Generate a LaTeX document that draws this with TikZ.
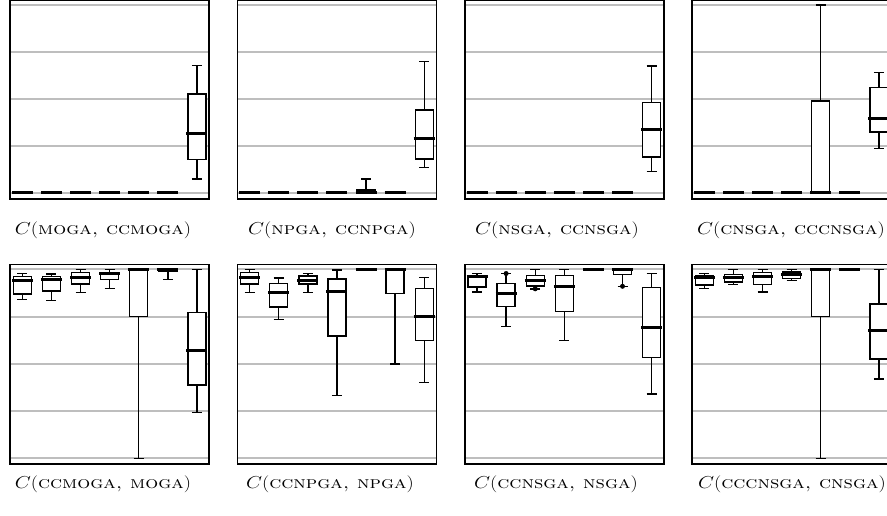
\documentclass[tikz,border=0pt]{standalone}
\usepackage{tikz}
\definecolor{gridgray}{RGB}{190,190,190}
\tikzset{
  gridln/.style={draw=gridgray,line width=2pt},
  frameln/.style={draw=black,line width=1.6pt},
  whisk/.style={draw=black,line width=1.4pt},
  boxln/.style={draw=black,line width=1.4pt,fill=white},
  medln/.style={draw=black,line width=3pt},
  outl/.style={fill=black,draw=none},
  lab/.style={anchor=base,inner sep=0pt,font=\fontsize{17}{20}\selectfont}
}
% center, whisker top, q3, median, q1, whisker bottom
\newcommand\bplot[6]{%
  \draw[whisk] (#1,#2) -- (#1,#3);
  \draw[whisk] (#1,#5) -- (#1,#6);
  \draw[whisk] (#1-5,#2) -- (#1+5,#2);
  \draw[whisk] (#1-5,#6) -- (#1+5,#6);
  \draw[boxln] (#1-9,#3) rectangle (#1+9,#5);
  \draw[medln] (#1-10.5,#4) -- (#1+10.5,#4);
}
\newcommand\zerobox[1]{\bplot{#1}{193}{193}{193}{193}{193}}
\newcommand\topbox[1]{\bplot{#1}{269.3}{269.3}{269.3}{269.3}{269.3}}
\newcommand\topgrid{%
  \foreach \gy in {5,52,99,146,193} \draw[gridln] (0,\gy) -- (199,\gy);
}
\newcommand\botgrid{%
  \foreach \gy in {269.3,316.5,363.8,411,458.3} \draw[gridln] (0,\gy) -- (199,\gy);
}
\newcommand\labtxt[1]{\scalebox{1.2}[1]{#1}}
\begin{document}
\begin{tikzpicture}[x=1pt,y=-1pt]
\useasboundingbox (0,0) rectangle (887,516);
\clip (0,0) rectangle (887,516);
% ---------------- top row ----------------
\begin{scope}[shift={(10,0)}]
  \topgrid
  \zerobox{12.3}\zerobox{41.4}\zerobox{70.5}\zerobox{99.6}\zerobox{128.7}\zerobox{157.8}
  \bplot{186.9}{65.7}{94}{133.3}{159.3}{179}
  \draw[frameln] (0,0.7) rectangle (199,199);
\end{scope}
\begin{scope}[shift={(237.3,0)}]
  \topgrid
  \zerobox{12.3}\zerobox{41.4}\zerobox{70.5}\zerobox{99.6}
  \bplot{128.7}{179}{190}{193}{193}{193}
  \zerobox{157.8}
  \bplot{186.9}{61.7}{110}{139}{159}{167.7}
  \draw[frameln] (0,0.7) rectangle (199,199);
\end{scope}
\begin{scope}[shift={(464.7,0)}]
  \topgrid
  \zerobox{12.3}\zerobox{41.4}\zerobox{70.5}\zerobox{99.6}\zerobox{128.7}\zerobox{157.8}
  \bplot{186.9}{66}{102.7}{129.3}{157}{171.3}
  \draw[frameln] (0,0.7) rectangle (199,199);
\end{scope}
\begin{scope}[shift={(692,0)}]
  \topgrid
  \zerobox{12.3}\zerobox{41.4}\zerobox{70.5}\zerobox{99.6}
  \bplot{128.7}{5}{101}{193}{193}{193}
  \zerobox{157.8}
  \bplot{186.9}{72.7}{87.3}{118.3}{132}{148.3}
  \draw[frameln] (0,0.7) rectangle (199,199);
\end{scope}
% ---------------- bottom row ----------------
\begin{scope}[shift={(10,0)}]
  \botgrid
  \bplot{12.3}{273.5}{276.2}{280.2}{294}{299.5}
  \bplot{41.4}{274}{276.5}{279.5}{291}{300.5}
  \bplot{70.5}{269.7}{272.2}{277.2}{283.8}{292.2}
  \bplot{99.6}{269.7}{272.2}{273.5}{279.7}{288.2}
  \bplot{128.7}{269.3}{269.3}{269.3}{316.7}{458.3}
  \bplot{157.8}{269.3}{269.3}{269.3}{271}{279.4}
  \bplot{186.9}{269.3}{312.3}{350.7}{385}{412.7}
  \draw[frameln] (0,264.3) rectangle (199,464);
\end{scope}
\begin{scope}[shift={(237.3,0)}]
  \botgrid
  \bplot{12.3}{269.7}{272.5}{277.2}{283.8}{292.2}
  \bplot{41.4}{278}{283.2}{292.3}{306.8}{319.3}
  \bplot{70.5}{273.5}{275.8}{280.2}{283.8}{292.2}
  \bplot{99.6}{270}{279}{291}{336}{395.7}
  \topbox{128.7}
  \bplot{157.8}{269.3}{269.3}{269.3}{293.3}{364}
  \bplot{186.9}{277.3}{288.3}{316.7}{340.7}{382.7}
  \draw[frameln] (0,264.3) rectangle (199,464);
\end{scope}
\begin{scope}[shift={(464.7,0)}]
  \botgrid
  \bplot{12.3}{273.5}{275.8}{276.8}{286.8}{292}
  \bplot{41.4}{273.5}{283.2}{293.5}{306.5}{326.5}
  \fill[outl] (41.4,273.5) circle (2.5);
  \bplot{70.5}{269.7}{275.2}{280.8}{286}{288.8}
  \fill[outl] (70.5,288.8) circle (2.5);
  \bplot{99.6}{269.7}{275.5}{286}{311.2}{340.7}
  \topbox{128.7}
  \bplot{157.8}{269.3}{269.3}{269.3}{274.3}{286.3}
  \fill[outl] (157.8,286.3) circle (2.5);
  \bplot{186.9}{273.3}{287.3}{327.7}{357.7}{394}
  \draw[frameln] (0,264.3) rectangle (199,464);
\end{scope}
\begin{scope}[shift={(692,0)}]
  \botgrid
  \bplot{12.3}{273.5}{275.5}{277.2}{285}{288.5}
  \bplot{41.4}{269.3}{274.5}{277.2}{281.8}{284.5}
  \bplot{70.5}{269.3}{272.2}{276.6}{284.3}{291.8}
  \bplot{99.6}{269.3}{271.8}{274.3}{278.5}{280.7}
  \bplot{128.7}{269.3}{269.3}{269.3}{316.7}{458.3}
  \topbox{157.8}
  \bplot{186.9}{269.3}{304}{330}{359}{379}
  \draw[frameln] (0,264.3) rectangle (199,464);
\end{scope}
% ---------------- labels ----------------
\node[lab] (l1) at (103,235) {\labtxt{$C$(\textsc{moga, ccmoga})}};
\node[lab] (l2) at (332,235) {\labtxt{$C$(\textsc{npga, ccnpga})}};
\node[lab] (l3) at (557,235) {\labtxt{$C$(\textsc{nsga, ccnsga})}};
\node[lab] (l4) at (791,235) {\labtxt{$C$(\textsc{cnsga, cccnsga})}};
\node[lab] (l5) at (103,488) {\labtxt{$C$(\textsc{ccmoga, moga})}};
\node[lab] (l6) at (330,488) {\labtxt{$C$(\textsc{ccnpga, npga})}};
\node[lab] (l7) at (556,488) {\labtxt{$C$(\textsc{ccnsga, nsga})}};
\node[lab] (l8) at (792,488) {\labtxt{$C$(\textsc{cccnsga, cnsga})}};
\end{tikzpicture}
\end{document}
